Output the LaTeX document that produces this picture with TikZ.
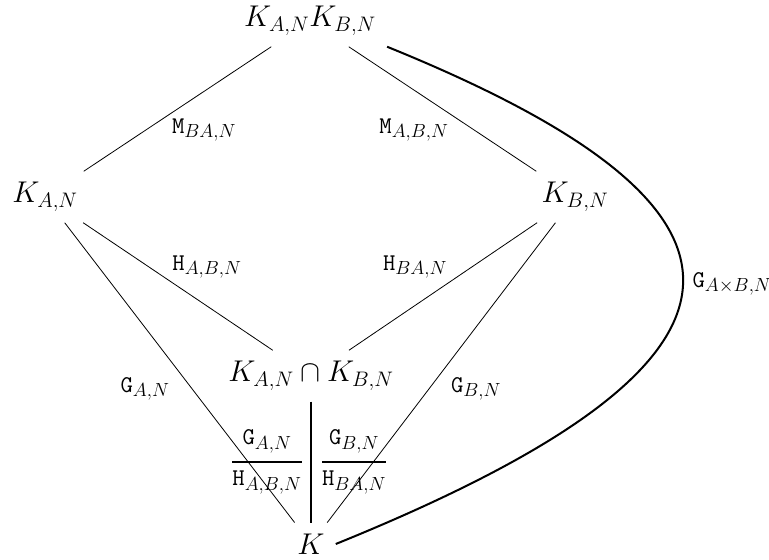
\documentclass[tikz,border=0pt]{standalone}
\usepackage{fix-cm}
\usepackage{amsmath}
\DeclareMathSizes{24}{24}{19}{14}
\begin{document}
\begin{tikzpicture}[x=1pt,y=-1pt,
  obj/.style={font=\fontsize{30}{36}\selectfont, inner sep=11pt},
  lab/.style={font=\fontsize{24}{29}\selectfont, inner sep=0pt},
  edgeline/.style={line width=0.8pt},
  thickline/.style={line width=2.2pt},
  curveline/.style={line width=2pt}]
\useasboundingbox (0,0) rectangle (769,560);
% objects
\node[obj] (top) at (310,21) {$K_{A,N}K_{B,N}$};
\node[obj] (L) at (45,197) {$K_{A,N}$};
\node[obj] (R) at (575,197) {$K_{B,N}$};
\node[obj] (M) at (311,376) {$K_{A,N}\cap K_{B,N}$};
\node[obj] (K) at (311,544) {$K$};
% connectors
\draw[edgeline] (top) -- (L);
\draw[edgeline] (top) -- (R);
\draw[edgeline] (L) -- (M);
\draw[edgeline] (R) -- (M);
\draw[edgeline] (L) -- (K);
\draw[edgeline] (R) -- (K);
\draw[thickline] (M) -- (K);
\draw[curveline] (top.south east) .. controls (790,210) and (790,360) .. (K.east);
% labels
\node[lab] (mba) at (204,130) {$\mathtt{M}_{BA,N}$};
\node[lab] (mab) at (414,130) {$\mathtt{M}_{A,B,N}$};
\node[lab] (hab) at (207,267) {$\mathtt{H}_{A,B,N}$};
\node[lab] (hba) at (415,267) {$\mathtt{H}_{BA,N}$};
\node[lab] (gan) at (145,389) {$\mathtt{G}_{A,N}$};
\node[lab] (gbn) at (476,389) {$\mathtt{G}_{B,N}$};
\node[lab] (gaxb) at (732,284) {$\mathtt{G}_{A\times B,N}$};
\node[lab] (fa) at (267,462) {$\genfrac{}{}{2.5pt}{0}{\mathtt{G}_{A,N}}{\mathtt{H}_{A,B,N}}$};
\node[lab] (fb) at (354,462) {$\genfrac{}{}{2.5pt}{0}{\mathtt{G}_{B,N}}{\mathtt{H}_{BA,N}}$};
\end{tikzpicture}
\end{document}
